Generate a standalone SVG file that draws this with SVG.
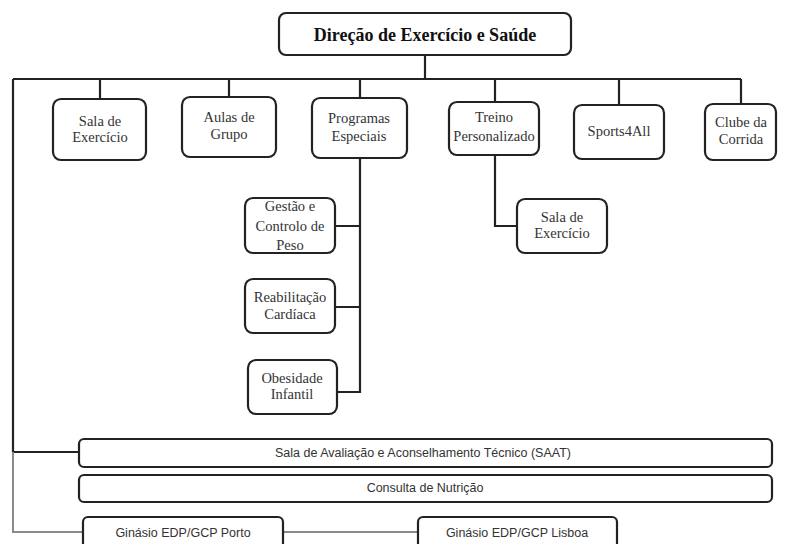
<svg xmlns="http://www.w3.org/2000/svg" width="786" height="544" viewBox="0 0 786 544">
<style>
.box{fill:#fff;stroke:#222;stroke-width:2.2}
.ln{fill:none;stroke:#222;stroke-width:2.2}
.gl{fill:none;stroke:#8a8a8a;stroke-width:2}
.t{font-family:"Liberation Serif","Times New Roman",serif;font-size:14.5px;fill:#333;text-anchor:middle}
.h{font-family:"Liberation Serif","Times New Roman",serif;font-size:18px;font-weight:bold;fill:#111;text-anchor:middle}
.s{font-family:"Liberation Sans",Arial,sans-serif;font-size:12.5px;fill:#333;text-anchor:middle}
</style>
<rect width="786" height="544" fill="#fff"/>
<g id="connectors">
<path class="ln" d="M425 55V79M13 79H741M100 79V99M229 79V97M360 79V98M495 79V102M619 79V105M741 79V104"/>
<path class="ln" d="M13 79V452H79"/>
<path class="gl" d="M13 452V532H83M283 532H418"/>
<path class="ln" d="M360 158V392H337M335 226H360M335 307H360"/>
<path class="ln" d="M495 155V226H517"/>
</g>
<g id="n-root"><rect class="box" x="279" y="13" width="292" height="42" rx="7"/><text class="h" x="425" y="41">Direção de Exercício e Saúde</text></g>
<g id="n-sala1"><rect class="box" x="53" y="99" width="93" height="61" rx="8"/><text class="t" x="100" y="126">Sala de</text><text class="t" x="100" y="142">Exercício</text></g>
<g id="n-aulas"><rect class="box" x="182" y="97" width="94" height="60" rx="8"/><text class="t" x="229" y="122">Aulas de</text><text class="t" x="229" y="139">Grupo</text></g>
<g id="n-programas"><rect class="box" x="312" y="98" width="95" height="60" rx="8"/><text class="t" x="359" y="123">Programas</text><text class="t" x="359" y="141">Especiais</text></g>
<g id="n-treino"><rect class="box" x="449" y="102" width="90" height="53" rx="8"/><text class="t" x="494" y="122">Treino</text><text class="t" x="494" y="141">Personalizado</text></g>
<g id="n-sports"><rect class="box" x="574" y="105" width="90" height="54" rx="8"/><text class="t" x="619" y="136">Sports4All</text></g>
<g id="n-clube"><rect class="box" x="705" y="104" width="71" height="56" rx="8"/><text class="t" x="741" y="127">Clube da</text><text class="t" x="741" y="144">Corrida</text></g>
<g id="n-gestao"><rect class="box" x="245" y="198" width="90" height="55" rx="8"/><text class="t" x="290" y="211">Gestão e</text><text class="t" x="290" y="231">Controlo de</text><text class="t" x="290" y="250">Peso</text></g>
<g id="n-reab"><rect class="box" x="245" y="279" width="90" height="54" rx="8"/><text class="t" x="290" y="302">Reabilitação</text><text class="t" x="290" y="319">Cardíaca</text></g>
<g id="n-obes"><rect class="box" x="248" y="360" width="89" height="54" rx="8"/><text class="t" x="292" y="383">Obesidade</text><text class="t" x="292" y="399">Infantil</text></g>
<g id="n-sala2"><rect class="box" x="517" y="199" width="90" height="54" rx="8"/><text class="t" x="562" y="222">Sala de</text><text class="t" x="562" y="238">Exercício</text></g>
<g id="n-saat"><rect class="box" x="79" y="439" width="693" height="28" rx="5"/><text class="s" x="423" y="457">Sala de Avaliação e Aconselhamento Técnico (SAAT)</text></g>
<g id="n-nutri"><rect class="box" x="79" y="475" width="693" height="27" rx="5"/><text class="s" x="425" y="492">Consulta de Nutrição</text></g>
<g id="n-porto"><rect class="box" x="83" y="517" width="200" height="40" rx="5"/><text class="s" x="183" y="537">Ginásio EDP/GCP Porto</text></g>
<g id="n-lisboa"><rect class="box" x="418" y="517" width="199" height="40" rx="5"/><text class="s" x="517" y="537">Ginásio EDP/GCP Lisboa</text></g>
</svg>
